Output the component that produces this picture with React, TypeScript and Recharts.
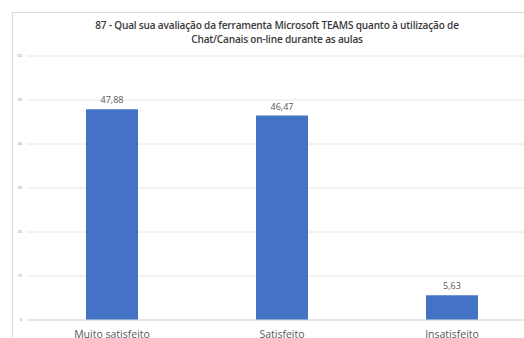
import React from "react";
import { BarChart, Bar, XAxis, YAxis, CartesianGrid, LabelList } from "recharts";

const categories = ["Muito satisfeito", "Satisfeito", "Insatisfeito"];
const values = [47.88, 46.47, 5.63];
const valueLabels = ["47,88", "46,47", "5,63"];
const yTicks = [0, 10, 20, 30, 40, 50, 60];
const titleLines = [
  "87 - Qual sua avaliação da ferramenta Microsoft TEAMS quanto à utilização de",
  "Chat/Canais on-line durante as aulas",
];

const data = categories.map((c, i) => ({ name: c, value: values[i], label: valueLabels[i] }));

export default function App() {
  return (
    <div
      style={{
        position: "absolute",
        left: 0,
        top: 0,
        width: 524,
        height: 338,
        overflow: "hidden",
        background: "#fff",
        fontFamily: "'Open Sans', 'Liberation Sans', sans-serif",
      }}
    >
      <div
        style={{
          position: "absolute",
          left: 12,
          top: 12,
          width: 700,
          height: 400,
          borderLeft: "1px solid #d9d9d9",
          borderTop: "1px solid #d9d9d9",
        }}
      />
      <div
        style={{
          position: "absolute",
          left: 12,
          width: 530,
          top: 18,
          textAlign: "center",
          fontSize: 10.1,
          lineHeight: "14px",
          color: "#3a3a3a",
          fontWeight: 600,
          letterSpacing: -0.2,
        }}
      >
        {titleLines.map((t) => (
          <div key={t}>{t}</div>
        ))}
      </div>
      <div style={{ position: "absolute", left: 0, top: 0, width: 524, height: 338, overflow: "hidden" }}>
        <BarChart
          width={524}
          height={338}
          data={data}
          margin={{ top: 56, right: -13, left: 12, bottom: -2 }}
          barCategoryGap="34.7%"
        >
          <CartesianGrid vertical={false} stroke="#e6e6e6" />
          <XAxis
            dataKey="name"
            axisLine={{ stroke: "#d9d9d9" }}
            tickLine={false}
            tick={{ fontSize: 10.5, fill: "#595959" }}
            tickMargin={5}
            height={20}
            interval={0}
          />
          <YAxis
            width={15}
            domain={[0, 60]}
            ticks={yTicks}
            axisLine={false}
            tickLine={false}
            tick={{ fontSize: 4, fill: "#8c8c8c", dx: 3 }}
          />
          <Bar dataKey="value" fill="#4472C4" isAnimationActive={false}>
            <LabelList dataKey="label" position="top" style={{ fontSize: 9, fill: "#595959" }} offset={6} />
          </Bar>
        </BarChart>
      </div>
    </div>
  );
}
